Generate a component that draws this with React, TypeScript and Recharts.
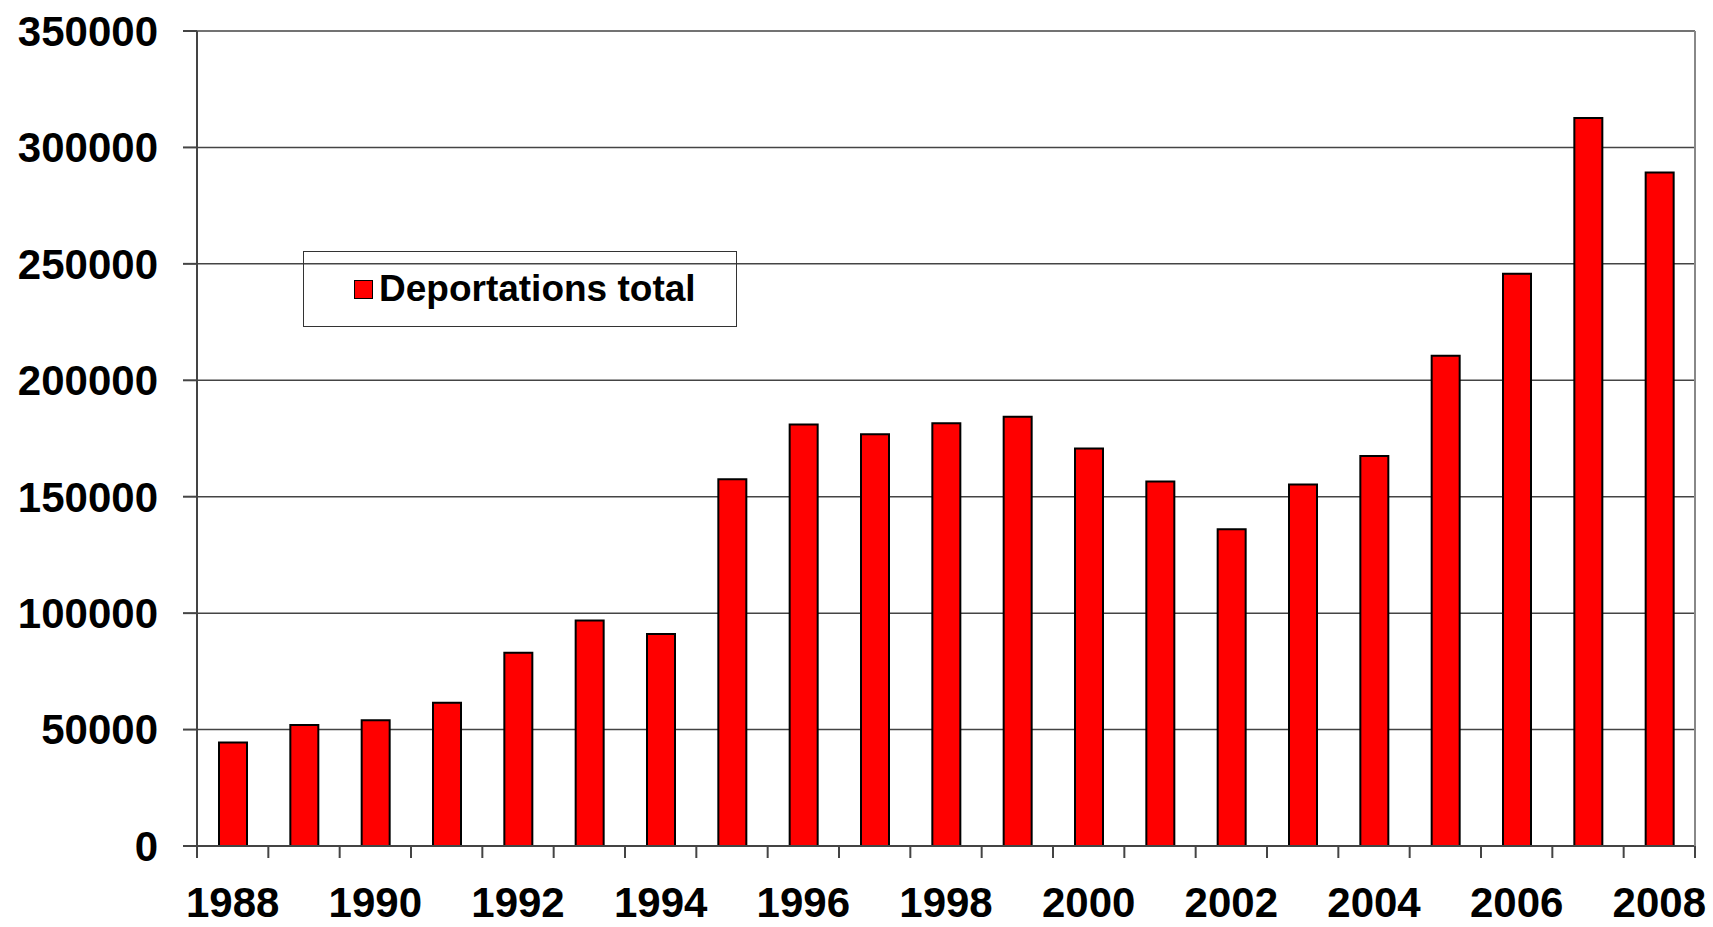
import React from "react";
import { BarChart, Bar, XAxis, YAxis, CartesianGrid, Legend } from "recharts";

const years = [
  "1988", "1989", "1990", "1991", "1992", "1993", "1994", "1995", "1996", "1997", "1998",
  "1999", "2000", "2001", "2002", "2003", "2004", "2005", "2006", "2007", "2008",
];

const deportations = [
  44500, 52000, 54000, 61500, 83000, 96800, 91000, 157500, 181000, 176800, 181500,
  184300, 170700, 156500, 136000, 155200, 167500, 210500, 245800, 312600, 289200,
];

const yTicks = [0, 50000, 100000, 150000, 200000, 250000, 300000, 350000];

const seriesName = "Deportations total";

const data = years.map((year, i) => ({ year, total: deportations[i] }));

const FONT = "'Liberation Sans', Arial, Helvetica, sans-serif";
const AXIS_COLOR = "#444";

const XTick = (props: any) => {
  const { x, y, payload, index } = props;
  const half = payload?.offset || 35.67;
  const isLast = index === years.length - 1;
  return (
    <g>
      <line x1={x - half} x2={x - half} y1={y - 12} y2={y} stroke={AXIS_COLOR} strokeWidth={2} />
      {isLast && (
        <line x1={x + half} x2={x + half} y1={y - 12} y2={y} stroke={AXIS_COLOR} strokeWidth={2} />
      )}
      {index % 2 === 0 && (
        <text
          x={x}
          y={y + 59}
          textAnchor="middle"
          fontFamily={FONT}
          fontWeight="bold"
          fontSize={42}
          fill="#000"
        >
          {payload.value}
        </text>
      )}
    </g>
  );
};

const LegendBox = () => (
  <div
    style={{
      boxSizing: "border-box",
      width: 434,
      height: 76,
      border: "1.5px solid #333",
      display: "flex",
      alignItems: "center",
      paddingLeft: 50,
      fontFamily: FONT,
      fontWeight: "bold",
      fontSize: 37,
      color: "#000",
    }}
  >
    <span
      style={{
        display: "inline-block",
        width: 17,
        height: 17,
        background: "#FF0000",
        border: "1.5px solid #000",
        marginRight: 6,
      }}
    />
    <span>{seriesName}</span>
  </div>
);

export default function App() {
  return (
    <div style={{ width: 1713, height: 927, background: "#fff" }}>
      <style>{"body{margin:0}"}</style>
      <BarChart
        width={1713}
        height={927}
        data={data}
        margin={{ top: 31, right: 0, bottom: 0, left: 0 }}
        barSize={28}
      >
        <CartesianGrid vertical={false} stroke={AXIS_COLOR} strokeWidth={1.5} />
        <XAxis
          dataKey="year"
          interval={0}
          height={81}
          tickSize={12}
          tickMargin={0}
          tickLine={false}
          axisLine={{ stroke: AXIS_COLOR, strokeWidth: 2 }}
          tick={<XTick />}
        />
        <YAxis
          width={197}
          domain={[0, 350000]}
          ticks={yTicks}
          interval={0}
          tickSize={14}
          tickMargin={25}
          tickLine={{ stroke: AXIS_COLOR, strokeWidth: 2 }}
          axisLine={{ stroke: AXIS_COLOR, strokeWidth: 2 }}
          tick={{ fontFamily: FONT, fontWeight: "bold", fontSize: 42, fill: "#000" }}
        />
        <YAxis
          yAxisId="right"
          orientation="right"
          width={18}
          domain={[0, 350000]}
          tick={false}
          tickLine={false}
          axisLine={{ stroke: "#888", strokeWidth: 2 }}
        />
        <Legend
          layout="horizontal"
          align="center"
          verticalAlign="middle"
          content={<LegendBox />}
          wrapperStyle={{ position: "absolute", left: 303, top: 251, width: 434, height: 76 }}
        />
        <Bar
          dataKey="total"
          name={seriesName}
          fill="#FF0000"
          stroke="#000"
          strokeWidth={2}
          isAnimationActive={false}
        />
      </BarChart>
    </div>
  );
}
